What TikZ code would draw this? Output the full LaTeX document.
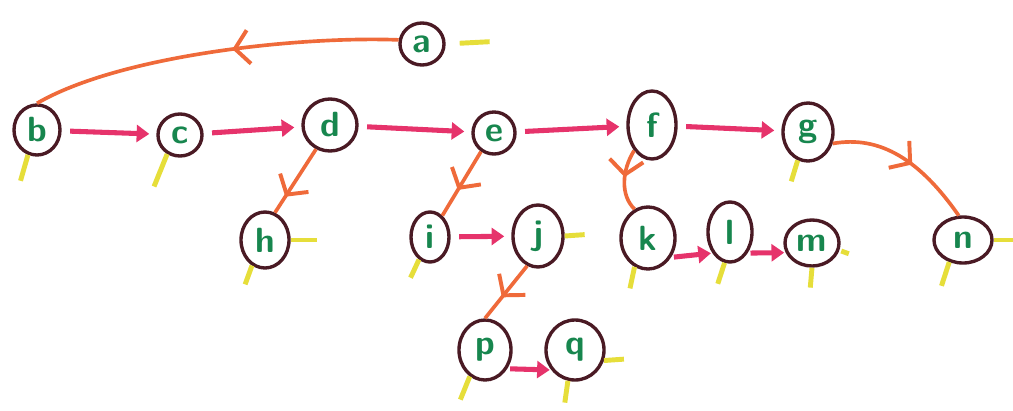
\documentclass[tikz,border=0pt]{standalone}
\usepackage{tikz}
\usetikzlibrary{arrows.meta,decorations.markings,shapes.geometric}

\definecolor{ringbrown}{HTML}{4A1A24}
\definecolor{letgreen}{HTML}{17864E}
\definecolor{sibpink}{HTML}{E6336B}
\definecolor{kidorange}{HTML}{EF6A3A}
\definecolor{nilyellow}{HTML}{E6DE3A}

\tikzset{
  vtx/.style={ellipse, draw=ringbrown, line width=2.4pt, inner sep=0pt,
    minimum width=1.1cm, minimum height=1.1cm,
    font=\sffamily\bfseries\Huge, text=letgreen},
  sibling/.style={draw=sibpink, line width=3.6pt, shorten <=6pt, shorten >=5pt,
    -{Triangle[length=9pt,width=12pt]}},
  child/.style={draw=kidorange, line width=2.6pt,
    decoration={markings, mark=at position #1 with
      {\arrow{Straight Barb[length=10pt,width=24pt,line width=2.8pt]}}},
    postaction={decorate}},
  child/.default=0.6,
  nullptr/.style={draw=nilyellow, line width=3.5pt}
}

\begin{document}
\begin{tikzpicture}[x=0.025cm, y=0.025cm]
  \useasboundingbox (0,0) rectangle (1013,410);

  % Tree nodes
  \node[vtx, minimum width=1.1cm, minimum height=1.05cm] (a) at (422,366) {a};
  \node[vtx, minimum width=1.15cm, minimum height=1.25cm] (b) at (37,280) {b};
  \node[vtx, minimum width=1.1cm, minimum height=1.05cm] (c) at (180,275) {c};
  \node[vtx, minimum width=1.35cm, minimum height=1.3cm] (d) at (330,285) {d};
  \node[vtx, minimum width=1.05cm, minimum height=1.05cm] (e) at (494,277) {e};
  \node[vtx, minimum width=1.2cm, minimum height=1.7cm] (f) at (652,285) {f};
  \node[vtx, minimum width=1.25cm, minimum height=1.45cm] (g) at (808,278) {g};
  \node[vtx, minimum width=1.2cm, minimum height=1.4cm] (h) at (265,170) {h};
  \node[vtx, minimum width=0.95cm, minimum height=1.25cm] (i) at (430,173) {i};
  \node[vtx, minimum width=1.25cm, minimum height=1.55cm] (j) at (538,174) {j};
  \node[vtx, minimum width=1.35cm, minimum height=1.55cm] (k) at (648,172) {k};
  \node[vtx, minimum width=1.1cm, minimum height=1.5cm] (l) at (730,178) {l};
  \node[vtx, minimum width=1.35cm, minimum height=1.15cm] (m) at (812,167) {m};
  \node[vtx, minimum width=1.45cm, minimum height=1.15cm] (n) at (963,170) {n};
  \node[vtx, minimum width=1.3cm, minimum height=1.5cm] (p) at (485,60) {p};
  \node[vtx, minimum width=1.45cm, minimum height=1.5cm] (q) at (575,60) {q};

  % Sibling links
  \foreach \u/\v in {b/c, c/d, d/e, e/f, f/g, i/j}
    \draw[sibling] (\u) -- (\v);
  \draw[sibling, shorten <=2pt, shorten >=1pt] (k.-40) -- (l.-130);
  \draw[sibling, shorten <=2pt, shorten >=1pt] (l.-50) -- (m.-160);
  \draw[sibling, shorten <=2pt, shorten >=1pt] (p.-40) -- (q.-140);

  % First-child links
  \draw[child=0.45] (a.170) .. controls (300,374) and (120,355) .. (b.north);
  \draw[child=0.75] (d.240) -- (h.70);
  \draw[child=0.6] (e.235) -- (i.60);
  \draw[child=0.45] (f.235) .. controls (622,240) and (620,215) .. (k.115);
  \draw[child=0.6] (j.250) -- (p.north);
  \draw[child=0.55] (g.-25) .. controls (880,275) and (920,250) .. (n.100);

  % Null pointers
  \foreach \v/\side/\tilt/\gap/\len in {
      a/0/3/14/30, b/250/254/0/27, c/236/248/0/35, g/250/253/0/22,
      h/0/0/0/26, h/243/250/0/20, i/244/245/0/20, j/0/4/0/20,
      k/245/258/0/22, l/260/252/0/22, m/270/265/0/20, m/-15/-20/2/8,
      n/0/0/0/22, n/238/252/0/25, p/240/248/0/25, q/257/262/0/22,
      q/-20/4/0/20}
    \draw[nullptr] (\v.\side) ++(\tilt:\gap) -- ++(\tilt:\len);
\end{tikzpicture}
\end{document}
